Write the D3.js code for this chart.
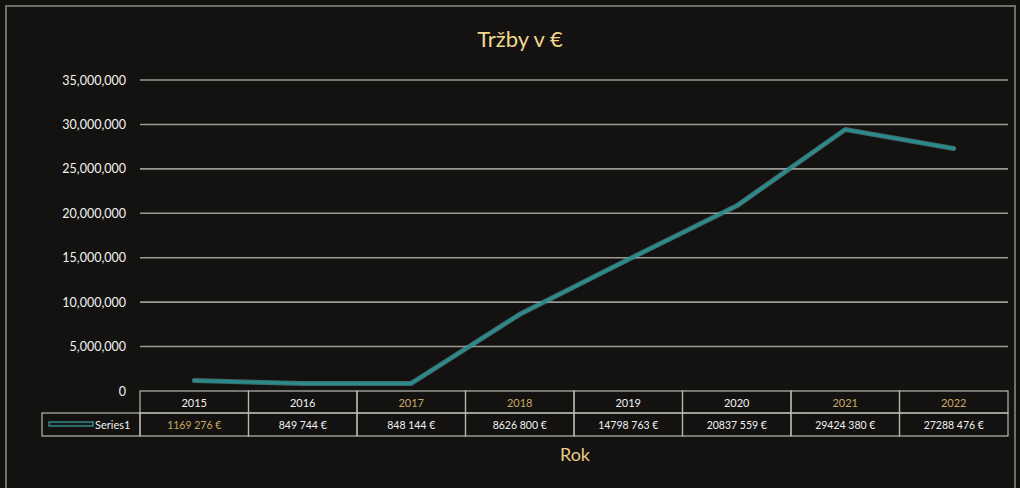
<!DOCTYPE html>
<html><head><meta charset="utf-8">
<script src="https://cdn.jsdelivr.net/npm/d3@7"></script>
<style>
html,body{margin:0;padding:0;background:#131210;}
svg{display:block;}
text{font-family:Lato,"Open Sans",sans-serif;}
</style></head>
<body><svg id="c" width="1020" height="488"></svg>
<script>
const years = ["2015","2016","2017","2018","2019","2020","2021","2022"];
const values = [1169276, 849744, 848144, 8626800, 14798763, 20837559, 29424380, 27288476];
const valueLabels = ["1169 276 €","849 744 €","848 144 €","8626 800 €","14798 763 €","20837 559 €","29424 380 €","27288 476 €"];
const yTicks = [0,5000000,10000000,15000000,20000000,25000000,30000000,35000000];
const goldYears = ["2017","2018","2021","2022"];
const goldValues = ["2015"];
const seriesName = "Series1";

const W=1020,H=488;
const svg=d3.select("#c");
svg.append("rect").attr("width",W).attr("height",H).attr("fill","#121110");
svg.append("rect").attr("x",6).attr("y",6).attr("width",1009).attr("height",490)
  .attr("fill","#131210").attr("stroke","#6f6e6a").attr("stroke-width",2);

const x=d3.scaleBand().domain(years).range([140,1008]);
const y=d3.scaleLinear().domain([0,35000000]).range([391,80]);

// gridlines
svg.append("g").selectAll("line").data(yTicks.filter(d=>d>0)).join("line")
  .attr("x1",140).attr("x2",1008).attr("y1",d=>y(d)).attr("y2",d=>y(d))
  .attr("stroke","#9a9994").attr("stroke-width",1.6);

// y axis labels
const yAxis=d3.axisLeft(y).tickValues(yTicks).tickSize(0).tickPadding(0)
  .tickFormat(d3.format(","));
const ga=svg.append("g").attr("transform","translate(126,0)").call(yAxis);
ga.select(".domain").remove();
ga.selectAll("text").attr("fill","#f2f2f2").attr("font-size",12.5).attr("font-family","Lato,'Open Sans',sans-serif");

// title
svg.append("text").attr("x",520).attr("y",47).attr("text-anchor","middle")
  .attr("fill","#f1d58e").attr("font-size",22).text("Tržby v €");

// line
const line=d3.line().x(d=>x(d.year)+x.bandwidth()/2).y(d=>y(d.v));
const pts=years.map((yr,i)=>({year:yr,v:values[i]}));
svg.append("path").datum(pts).attr("d",line).attr("fill","none")
  .attr("stroke","#6fb7b7").attr("stroke-width",5).attr("stroke-linejoin","round").attr("stroke-linecap","round").attr("opacity",0.5);
svg.append("path").datum(pts).attr("d",line).attr("fill","none")
  .attr("stroke","#2a8a8c").attr("stroke-width",3.2).attr("stroke-linejoin","round").attr("stroke-linecap","round");

// data table
const tg=svg.append("g");
const rowTop=391, rowMid=413, rowBot=436;
const tcol="#b9b8b3";
tg.selectAll("rect.h").data(years).join("rect").attr("class","h")
  .attr("x",d=>x(d)).attr("y",rowTop).attr("width",x.bandwidth()).attr("height",rowMid-rowTop)
  .attr("fill","none").attr("stroke",tcol).attr("stroke-width",1.2);
tg.selectAll("rect.v").data(years).join("rect").attr("class","v")
  .attr("x",d=>x(d)).attr("y",rowMid).attr("width",x.bandwidth()).attr("height",rowBot-rowMid)
  .attr("fill","none").attr("stroke",tcol).attr("stroke-width",1.2);
tg.append("rect").attr("x",42).attr("y",rowMid).attr("width",98).attr("height",rowBot-rowMid)
  .attr("fill","none").attr("stroke",tcol).attr("stroke-width",1.2);

tg.selectAll("text.h").data(years).join("text").attr("class","h")
  .attr("x",d=>x(d)+x.bandwidth()/2).attr("y",rowTop+16).attr("text-anchor","middle")
  .attr("font-size",11).attr("fill",d=>goldYears.includes(d)?"#c9a968":"#f2f2f2").text(d=>d);
tg.selectAll("text.v").data(years).join("text").attr("class","v")
  .attr("x",d=>x(d)+x.bandwidth()/2).attr("y",rowMid+16).attr("text-anchor","middle")
  .attr("font-size",10.5).attr("fill",d=>goldValues.includes(d)?"#c9a968":"#f2f2f2")
  .text((d,i)=>valueLabels[i]);

// legend key
tg.append("rect").attr("x",49).attr("y",422).attr("width",44).attr("height",4)
  .attr("fill","#141a1a").attr("stroke","#3f9ea0").attr("stroke-width",1.2);
tg.append("text").attr("x",95).attr("y",rowMid+16).attr("font-size",11).attr("fill","#f2f2f2").text(seriesName);

// x axis title
svg.append("text").attr("x",575).attr("y",461).attr("text-anchor","middle")
  .attr("fill","#e8cc88").attr("font-size",18).text("Rok");
</script></body></html>
